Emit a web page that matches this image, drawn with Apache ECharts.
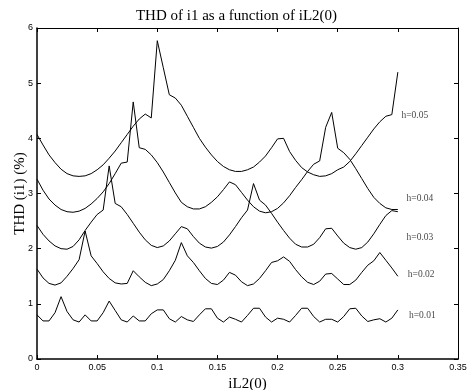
<!DOCTYPE html>
<html>
<head>
<meta charset="utf-8">
<script src="https://cdn.jsdelivr.net/npm/echarts@6/dist/echarts.min.js"></script>
<style>
html,body{margin:0;padding:0;background:#fff;}
#chart{width:473px;height:390px;}
</style>
</head>
<body>
<div id="chart"></div>
<script>
const xValues = [0,0.005,0.01,0.015,0.02,0.025,0.03,0.035,0.04,0.045,
  0.05,0.055,0.06,0.065,0.07,0.075,0.08,0.085,0.09,0.095,
  0.1,0.105,0.11,0.115,0.12,0.125,0.13,0.135,0.14,0.145,
  0.15,0.155,0.16,0.165,0.17,0.175,0.18,0.185,0.19,0.195,
  0.2,0.205,0.21,0.215,0.22,0.225,0.23,0.235,0.24,0.245,
  0.25,0.255,0.26,0.265,0.27,0.275,0.28,0.285,0.29,0.295,
  0.3];
const h001 = [0.80,0.69,0.69,0.84,1.13,0.86,0.71,0.67,0.80,0.69,
  0.69,0.84,1.05,0.88,0.71,0.67,0.78,0.69,0.69,0.82,
  0.89,0.89,0.73,0.67,0.77,0.71,0.68,0.80,0.91,0.91,
  0.74,0.67,0.76,0.72,0.67,0.79,0.92,0.92,0.76,0.67,
  0.74,0.72,0.67,0.79,0.92,0.92,0.77,0.67,0.72,0.72,
  0.67,0.77,0.91,0.92,0.78,0.68,0.71,0.73,0.67,0.74,
  0.89];
const h002 = [1.63,1.47,1.37,1.34,1.38,1.50,1.64,1.80,2.32,1.87,
  1.73,1.58,1.46,1.38,1.36,1.37,1.60,1.49,1.39,1.33,
  1.36,1.44,1.60,1.79,2.11,1.87,1.75,1.60,1.46,1.37,
  1.35,1.43,1.57,1.52,1.40,1.33,1.36,1.46,1.60,1.75,
  1.78,1.85,1.77,1.62,1.49,1.39,1.35,1.41,1.54,1.55,
  1.45,1.35,1.35,1.43,1.57,1.70,1.78,1.93,1.79,1.65,
  1.50];
const h003 = [2.42,2.26,2.14,2.05,2.00,1.99,2.04,2.16,2.33,2.48,
  2.62,2.70,3.50,2.82,2.76,2.62,2.46,2.30,2.16,2.06,
  2.02,2.05,2.14,2.27,2.40,2.36,2.22,2.10,2.03,2.01,
  2.04,2.12,2.25,2.40,2.56,2.70,3.18,2.88,2.79,2.64,
  2.48,2.33,2.19,2.08,2.03,2.03,2.08,2.20,2.36,2.37,
  2.23,2.10,2.02,1.99,2.02,2.12,2.27,2.44,2.60,2.69,
  2.67];
const h004 = [3.26,3.06,2.90,2.79,2.71,2.67,2.66,2.68,2.73,2.81,
  2.91,3.03,3.18,3.36,3.55,3.57,4.66,3.83,3.80,3.70,
  3.56,3.39,3.20,3.01,2.84,2.76,2.72,2.72,2.76,2.84,
  2.94,3.07,3.21,3.16,3.02,2.88,2.76,2.68,2.65,2.67,
  2.73,2.83,2.96,3.11,3.25,3.40,3.53,3.59,4.20,4.47,
  3.82,3.74,3.62,3.45,3.27,3.09,2.93,2.82,2.74,2.71,
  2.71];
const h005 = [4.07,3.88,3.70,3.56,3.44,3.36,3.32,3.31,3.32,3.36,
  3.43,3.52,3.64,3.77,3.92,4.07,4.22,4.35,4.44,4.37,
  5.77,5.28,4.79,4.73,4.60,4.40,4.20,4.00,3.84,3.70,
  3.58,3.49,3.43,3.40,3.40,3.43,3.48,3.57,3.68,3.83,
  3.99,4.00,3.76,3.60,3.47,3.39,3.34,3.31,3.32,3.36,
  3.43,3.48,3.58,3.72,3.87,4.02,4.17,4.30,4.40,4.43,
  5.20];
const seriesNames = ['h=0.01','h=0.02','h=0.03','h=0.04','h=0.05'];
const labelX = [0.3092,0.3083,0.3072,0.3072,0.3030];
const labelY = [0.786,1.524,2.196,2.91,4.41];
const xTicks = ['0','0.05','0.1','0.15','0.2','0.25','0.3','0.35'];

const curves = [h001,h002,h003,h004,h005];
const chart = echarts.init(document.getElementById('chart'), null, {renderer:'canvas'});
const sans = 'Liberation Sans';
const serif = 'Liberation Serif';
const series = curves.map(function(c){
  return {
    type:'line', xAxisIndex:0, yAxisIndex:0,
    data: xValues.map(function(x,i){return [x,c[i]];}),
    showSymbol:false, symbol:'none', smooth:false,
    lineStyle:{color:'#000', width:1}, silent:true, z:3
  };
});
series.push({
  type:'scatter', xAxisIndex:0, yAxisIndex:0, symbolSize:0, silent:true,
  data: seriesNames.map(function(n,i){return {name:n, value:[labelX[i],labelY[i]]};}),
  label:{show:true, position:'right', distance:0, formatter:'{b}',
    fontFamily:serif, fontSize:9.5, color:'#111', align:'left', verticalAlign:'middle'}
});
const tickCommon = {show:true, inside:true, length:4, lineStyle:{color:'#000', width:1}};
chart.setOption({
  animation:false,
  backgroundColor:'#fff',
  title:{text:'THD of i1 as a function of iL2(0)', left:'center', top:4,
    textStyle:{fontFamily:serif, fontSize:15, fontWeight:'normal', color:'#000'}},
  grid:{left:37, right:15, top:28, bottom:31, containLabel:false, outerBoundsMode:'none'},
  xAxis:[{
    type:'value', min:0, max:0.35, interval:0.05, position:'bottom',
    name:'iL2(0)', nameLocation:'middle', nameGap:16,
    nameTextStyle:{fontFamily:serif, fontSize:15, color:'#000'},
    axisLine:{show:true, onZero:false, lineStyle:{color:'#000', width:1.5}},
    axisTick:tickCommon,
    axisLabel:{fontFamily:sans, fontSize:9, color:'#000', margin:4,
      formatter:function(v,i){return xTicks[i];}},
    splitLine:{show:false}
  },{
    type:'value', min:0, max:0.35, interval:0.05, position:'top',
    axisLine:{show:true, onZero:false, lineStyle:{color:'#000', width:1}},
    axisTick:tickCommon, axisLabel:{show:false}, splitLine:{show:false}
  }],
  yAxis:[{
    type:'value', min:0, max:6, interval:1, position:'left',
    name:'THD (i1) (%)', nameLocation:'middle', nameGap:9, nameMoveOverlap:false,
    nameTextStyle:{fontFamily:serif, fontSize:15, color:'#000'},
    axisLine:{show:true, onZero:false, lineStyle:{color:'#000', width:1.5}},
    axisTick:tickCommon,
    axisLabel:{fontFamily:sans, fontSize:9, color:'#000', margin:4},
    splitLine:{show:false}
  },{
    type:'value', min:0, max:6, interval:1, position:'right',
    axisLine:{show:true, onZero:false, lineStyle:{color:'#000', width:1}},
    axisTick:tickCommon, axisLabel:{show:false}, splitLine:{show:false}
  }],
  series:series
});
</script>
</body>
</html>
